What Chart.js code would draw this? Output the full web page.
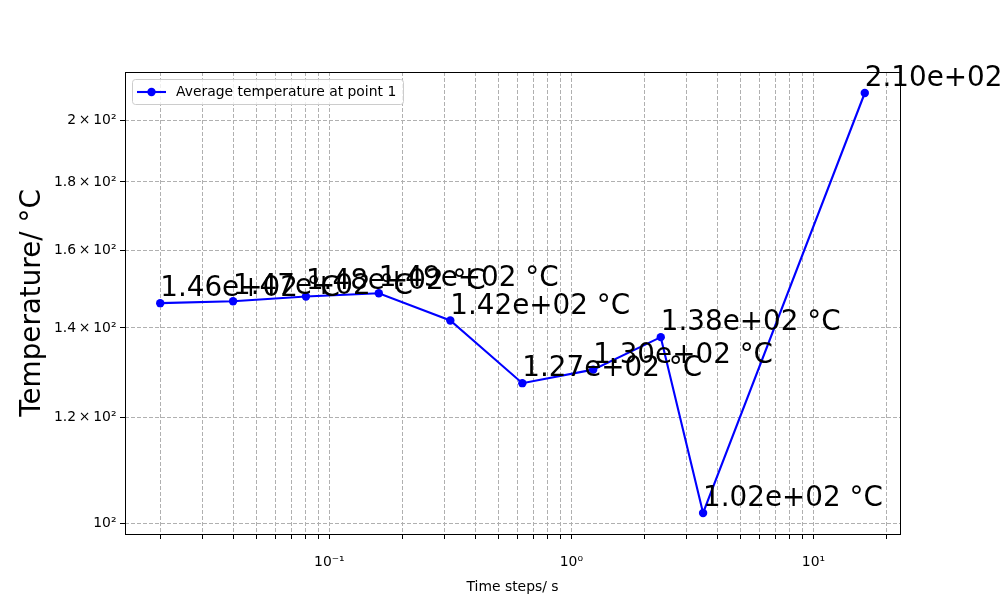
<!DOCTYPE html>
<html>
<head>
<meta charset="utf-8">
<script src="https://cdn.jsdelivr.net/npm/chart.js@4/dist/chart.umd.min.js"></script>
<style>
  body { margin: 0; background: #fff; }
  #wrap { width: 1000px; height: 600px; }
</style>
</head>
<body>
<div id="wrap"><canvas id="tempChart" width="1000" height="600"></canvas></div>
<script>
  // Data
  const timeSteps = [0.02, 0.04, 0.08, 0.16, 0.316, 0.627, 1.23, 2.34, 3.5, 16.3];
  const temperatures = [146.1, 146.6, 147.8, 148.6, 141.8, 127.3, 130.3, 137.8, 101.8, 209.8];
  const seriesLabel = "Average temperature at point 1";

  // Tick marks / labels
  const xTicks = [0.02, 0.03, 0.04, 0.05, 0.06, 0.07, 0.08, 0.09, 0.1,
                  0.2, 0.3, 0.4, 0.5, 0.6, 0.7, 0.8, 0.9, 1,
                  2, 3, 4, 5, 6, 7, 8, 9, 10, 20];
  const xMajorTicks = [0.1, 1, 10];
  const xMajorLabels = ["10\u207B\u00B9", "10\u2070", "10\u00B9"];
  const yTicks = [100, 120, 140, 160, 180, 200];
  const yTickLabels = ["10\u00B2", "1.2\u2009\u00D7\u200910\u00B2", "1.4\u2009\u00D7\u200910\u00B2",
                       "1.6\u2009\u00D7\u200910\u00B2", "1.8\u2009\u00D7\u200910\u00B2", "2\u2009\u00D7\u200910\u00B2"];

  const FONT = "DejaVu Sans";
  const GRID = "#b0b0b0";

  // matplotlib-like 5% margins in log space
  function logLimits(values) {
    const lo = Math.log10(Math.min(...values));
    const hi = Math.log10(Math.max(...values));
    const m = (hi - lo) * 0.05;
    return [Math.pow(10, lo - m), Math.pow(10, hi + m)];
  }
  const [xMin, xMax] = logLimits(timeSteps);
  const [yMin, yMax] = logLimits(temperatures);

  function sci(v) {
    const exp = Math.floor(Math.log10(Math.abs(v)));
    const mant = (v / Math.pow(10, exp)).toFixed(2);
    return mant + "e" + (exp >= 0 ? "+" : "-") + String(Math.abs(exp)).padStart(2, "0");
  }

  // Box around plot + point annotations + legend
  const decorPlugin = {
    id: "decor",
    afterDatasetsDraw(chart) {
      const ctx = chart.ctx;
      const a = chart.chartArea;
      const xs = chart.scales.x, ys = chart.scales.y;

      ctx.save();
      ctx.strokeStyle = "#000";
      ctx.lineWidth = 1;
      ctx.strokeRect(Math.round(a.left) + 0.5, Math.round(a.top) + 0.5,
                     Math.round(a.right - a.left), Math.round(a.bottom - a.top));

      ctx.fillStyle = "#000";
      ctx.font = "27.8px '" + FONT + "'";
      ctx.textAlign = "left";
      ctx.textBaseline = "alphabetic";
      timeSteps.forEach((t, i) => {
        const px = xs.getPixelForValue(t);
        const py = ys.getPixelForValue(temperatures[i]);
        ctx.fillText(sci(temperatures[i]) + " \u00B0C", px, py - 7);
      });

      // legend
      const lx = 132.5, ly = 79.5, lw = 271, lh = 25;
      ctx.beginPath();
      ctx.roundRect(lx, ly, lw, lh, 3);
      ctx.fillStyle = "rgba(255,255,255,0.8)";
      ctx.fill();
      ctx.strokeStyle = "#cccccc";
      ctx.stroke();
      const cy = ly + lh / 2;
      ctx.strokeStyle = "blue";
      ctx.lineWidth = 2.1;
      ctx.beginPath();
      ctx.moveTo(137, cy);
      ctx.lineTo(166, cy);
      ctx.stroke();
      ctx.fillStyle = "blue";
      ctx.beginPath();
      ctx.arc(151.5, cy, 4.2, 0, Math.PI * 2);
      ctx.fill();
      ctx.fillStyle = "#000";
      ctx.font = "13.9px '" + FONT + "'";
      ctx.textBaseline = "middle";
      ctx.fillText(chart.data.datasets[0].label, 176, cy);
      ctx.restore();
    }
  };

  Chart.defaults.font.family = FONT;
  Chart.defaults.color = "#000";

  new Chart(document.getElementById("tempChart"), {
    type: "line",
    data: {
      datasets: [{
        label: seriesLabel,
        data: timeSteps.map((t, i) => ({ x: t, y: temperatures[i] })),
        borderColor: "blue",
        backgroundColor: "blue",
        borderWidth: 2.1,
        pointRadius: 4.2,
        pointBorderWidth: 0,
        pointBackgroundColor: "blue",
        tension: 0
      }]
    },
    options: {
      responsive: false,
      animation: false,
      devicePixelRatio: 1,
      layout: { padding: { top: 72, right: 100, left: 0, bottom: 0 } },
      plugins: { legend: { display: false }, tooltip: { enabled: false } },
      scales: {
        x: {
          type: "logarithmic",
          min: xMin,
          max: xMax,
          afterBuildTicks: s => { s.ticks = xTicks.map(v => ({ value: v })); },
          afterFit: s => { s.height = 66; },
          ticks: {
            autoSkip: false,
            maxRotation: 0,
            padding: 15,
            font: { size: 13.9 },
            callback: v => {
              const k = xMajorTicks.findIndex(m => Math.abs(m - v) < 1e-9);
              return k >= 0 ? xMajorLabels[k] : "";
            }
          },
          grid: { color: GRID, lineWidth: 1, tickColor: "#000", tickLength: 5, tickWidth: 1 },
          border: { display: false, dash: [4, 2] },
          title: { display: true, text: "Time steps/ s", font: { size: 13.9 }, padding: { top: 0, bottom: 4.5 } }
        },
        y: {
          type: "logarithmic",
          min: yMin,
          max: yMax,
          afterBuildTicks: s => { s.ticks = yTicks.map(v => ({ value: v })); },
          afterFit: s => { s.width = 125; },
          ticks: {
            autoSkip: false,
            padding: 3.5,
            font: { size: 13.9 },
            callback: v => {
              const k = yTicks.findIndex(m => Math.abs(m - v) < 1e-9);
              return k >= 0 ? yTickLabels[k] : "";
            }
          },
          grid: { color: GRID, lineWidth: 1, tickColor: "#000", tickLength: 5, tickWidth: 1 },
          border: { display: false, dash: [4, 2] },
          title: { display: true, text: "Temperature/ \u00B0C", font: { size: 27.8 }, padding: { top: 16, bottom: 0 } }
        }
      }
    },
    plugins: [decorPlugin]
  });
</script>
</body>
</html>
